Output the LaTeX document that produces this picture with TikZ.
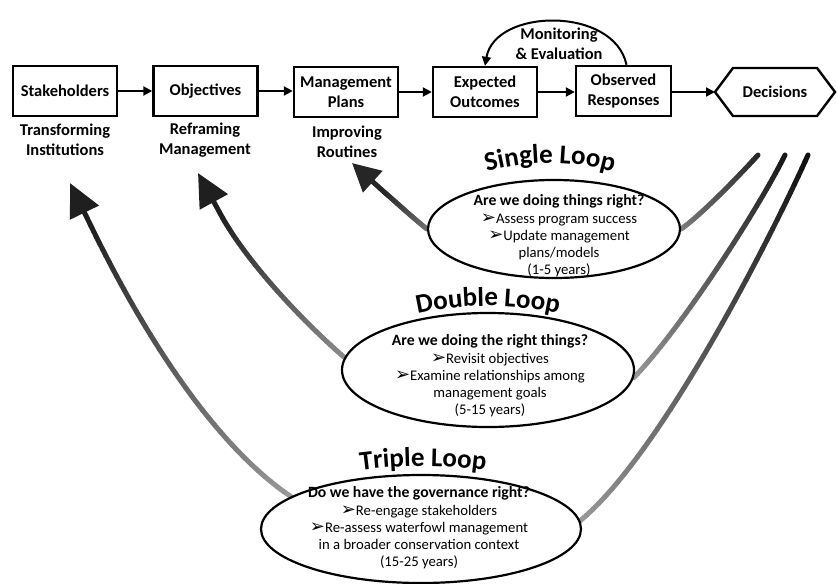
\documentclass[tikz,border=0pt]{standalone}
\usepackage{fontspec}
\setmainfont{Carlito}
\newfontfamily\dejavu{DejaVu Sans}
\usetikzlibrary{arrows.meta,shapes.geometric,decorations.text,calc}
\pgfdeclarelayer{bg}
\pgfsetlayers{bg,main}
\newcommand\bxf{\fontsize{16.5}{20}\selectfont\bfseries}
\newcommand\otf{\fontsize{14.7}{17.3}\selectfont}
\newcommand\otbf{\fontsize{15.7}{17.3}\selectfont\bfseries}
\newcommand\ltf{\fontsize{27}{27}\selectfont\bfseries}
\newcommand\bul{{\dejavu\fontsize{18}{17.3}\selectfont ➢}}
\newcommand\gradcurve[6]{%
  \colorlet{gca}{#5}\colorlet{gcb}{#6}%
  \foreach \i in {1,...,40}{%
    \pgfmathsetmacro\ta{(\i-1)/40}%
    \pgfmathsetmacro\tb{\i/40}%
    \pgfmathtruncatemacro\mixv{100*(\i-0.5)/40}%
    \path #1 .. controls #2 and #3 .. #4 coordinate[pos=\ta] (ga) coordinate[pos=\tb] (gb);%
    \draw[loopline, draw=gcb!\mixv!gca] (ga) -- (gb);%
  }%
}
\begin{document}
\begin{tikzpicture}[x=1pt,y=-1pt,
  box/.style={draw, line width=2.4pt, minimum width=104pt, minimum height=50pt, inner sep=1pt, align=center, font=\bxf},
  flow/.style={line width=2pt, -{Triangle[length=9pt,width=9pt]}},
  lbl/.style={align=center, font=\bxf, inner sep=0pt},
  oval/.style={draw, ellipse, line width=2.2pt, fill=white, inner sep=0pt},
  otext/.style={align=center, font=\otf, inner sep=0pt},
  loopline/.style={line width=5pt, line cap=round},
  bighead/.style={line width=5pt, draw=black!88, -{Triangle[length=33pt,width=31pt,fill=black!88]}},
  smallhead/.style={line width=5pt, draw=black!85, -{Triangle[length=28pt,width=28pt,fill=black!85]}},
  looptitle/.style={decorate, decoration={text along path, text align=center, text={|\ltf|#1}}},
]
\useasboundingbox (0,0) rectangle (837,583);

% top row
\node[box] (S) at (65,91) {Stakeholders};
\node[box] (O) at (205.5,91) {Objectives};
\node[box] (M) at (346,92) {Management\\Plans};
\node[box] (E) at (485,92) {Expected\\Outcomes};
\node[box, minimum width=95pt] (Ob) at (623.5,91) {Observed\\Responses};
\node[font=\bxf, inner sep=0pt] (D) at (775,92) {Decisions};
\coordinate (Dw) at (715,92);
\draw[line width=2.4pt, line join=miter] (Dw) -- ++(18,-24) -- ++(84,0) -- ++(18,24) -- ++(-18,24) -- ++(-84,0) -- cycle;

\draw[flow] (S.east) -- (S.east -| O.west);
\draw[flow] (O.east) -- (O.east -| M.west);
\draw[flow] (M.east) -- (M.east -| E.west);
\draw[flow] (E.east) -- (E.east -| Ob.west);
\draw[flow] (Ob.east |- Dw) -- (Dw);

\draw[flow] ([xshift=3]Ob.north) .. controls (614,6) and (495,8) .. (E.north);
\node[lbl] (mon) at (559,44) {Monitoring\\\& Evaluation};

\node[lbl] (l1) at (65,140) {Transforming\\Institutions};
\node[lbl] (l2) at (205,140) {Reframing\\Management};
\node[lbl] (l3) at (347,142) {Improving\\Routines};

% ellipses
\node[oval, minimum width=252pt, minimum height=98pt] (L1) at (554,229) {};
\node[oval, minimum width=292pt, minimum height=114pt] (L2) at (488,370) {};
\node[oval, minimum width=320pt, minimum height=108pt] (L3) at (421,529) {};

\node[otext] (T1) at (559,236) {{\otbf Are we doing things right?}\\\bul Assess program success\\\bul Update management\\plans/models\\(1-5 years)};
\node[otext] (T2) at (490,376) {{\otbf Are we doing the right things?}\\\bul Revisit objectives\\\bul Examine relationships among\\management goals\\(5-15 years)};
\node[otext] (T3) at (419,528) {{\otbf Do we have the governance right?}\\\bul Re-engage stakeholders\\\bul Re-assess waterfowl management\\in a broader conservation context\\(15-25 years)};

% loop titles
\path[looptitle={Single Loop}] (460,181) .. controls (520,157) and (580,157) .. (640,181);
\path[looptitle={Double Loop}] (393,320.4) .. controls (456,301.2) and (520,301.2) .. (583,320.4);
\path[looptitle={Triple Loop}] (333,474.7) .. controls (393,463.1) and (453,463.1) .. (513,474.7);

% loop connectors
\coordinate (s1top) at (758,155);
\coordinate (d2top) at (785,155);
\coordinate (t3top) at (808,155);
\coordinate (s1q) at (383,191); \coordinate (s1tip) at (352,163);
\coordinate (d2q) at (221,215); \coordinate (d2tip) at (198,173);
\coordinate (t3q) at (91,226);  \coordinate (t3tip) at (70,183);

\begin{pgfonlayer}{bg}
\gradcurve{(L1.east)}{(701,215)}{(738,177)}{(s1top)}{black!50}{black!85}
\gradcurve{(L1.west)}{(412,217)}{(398,204)}{(s1q)}{black!55}{black!85}
\draw[smallhead] (s1q) -- (s1tip);
\gradcurve{(L2.175)}{(298,317)}{(245,259)}{(d2q)}{black!45}{black!88}
\draw[bighead] (d2q) -- (d2tip);
\gradcurve{(L2.-3)}{(680,330)}{(758,210)}{(d2top)}{black!40}{black!92}
\gradcurve{(L3.166)}{(200,435)}{(126,298)}{(t3q)}{black!40}{black!88}
\draw[bighead] (t3q) -- (t3tip);
\gradcurve{(L3.3)}{(660,455)}{(770,240)}{(t3top)}{black!40}{black!95}
\end{pgfonlayer}
\end{tikzpicture}
\end{document}
